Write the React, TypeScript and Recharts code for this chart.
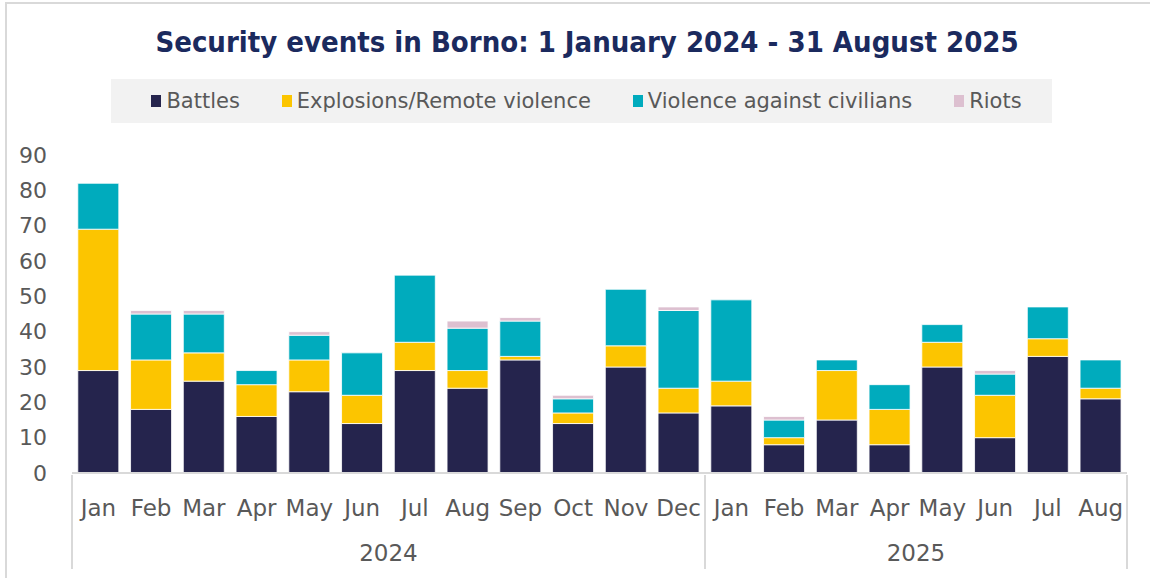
import React from 'react';
import { BarChart, Bar, XAxis, YAxis } from 'recharts';

const months = ['Jan','Feb','Mar','Apr','May','Jun','Jul','Aug','Sep','Oct','Nov','Dec','Jan','Feb','Mar','Apr','May','Jun','Jul','Aug'];
const years = ['2024','2024','2024','2024','2024','2024','2024','2024','2024','2024','2024','2024','2025','2025','2025','2025','2025','2025','2025','2025'];
const battles = [29,18,26,16,23,14,29,24,32,14,30,17,19,8,15,8,30,10,33,21];
const explosions = [40,14,8,9,9,8,8,5,1,3,6,7,7,2,14,10,7,12,5,3];
const violenceCivilians = [13,13,11,4,7,12,19,12,10,4,16,22,23,5,3,7,5,6,9,8];
const riots = [0,1,1,0,1,0,0,2,1,1,0,1,0,1,0,0,0,1,0,0];
const yTicks = [0,10,20,30,40,50,60,70,80,90];

const series = [
  { key: 'battles', name: 'Battles', color: '#25244D' },
  { key: 'explosions', name: 'Explosions/Remote violence', color: '#FCC500' },
  { key: 'vac', name: 'Violence against civilians', color: '#00ABBD' },
  { key: 'riots', name: 'Riots', color: '#DDC0D0' },
];

const data = months.map((m, i) => ({
  key: `${m}-${years[i]}`,
  month: m,
  year: years[i],
  battles: battles[i],
  explosions: explosions[i],
  vac: violenceCivilians[i],
  riots: riots[i],
}));

const W = 1150;
const H = 578;
const MARGIN = { top: 155, right: 23, bottom: 5, left: 0 };
const YAXIS_W = 72;
const XAXIS_H = 100;
const PLOT_W = W - MARGIN.left - MARGIN.right - YAXIS_W;
const STEP = PLOT_W / months.length;
const FONT = "'DejaVu Sans', sans-serif";
const TITLE_FONT = "'DejaVu Sans Condensed', 'DejaVu Sans', sans-serif";
const TEXT = '#595959';
const LINE = '#D9D9D9';

const groups: { year: string; start: number; end: number }[] = [];
years.forEach((y, i) => {
  const g = groups[groups.length - 1];
  if (g && g.year === y) g.end = i;
  else groups.push({ year: y, start: i, end: i });
});

const MonthTick = (props: any) => {
  const { x, y, payload } = props;
  const i = payload.index;
  const left = x - STEP / 2;
  const els: any[] = [];
  els.push(
    <text key="m" x={x} y={y + 41} textAnchor="middle" fill={TEXT} fontSize={23} fontFamily={FONT}>{months[i]}</text>
  );
  groups.forEach((g) => {
    if (g.start === i) {
      els.push(<line key="ls" x1={left} x2={left} y1={y} y2={y + 94} stroke={LINE} strokeWidth={2} />);
      const cx = left + ((g.end - g.start + 1) * STEP) / 2;
      els.push(
        <text key="y" x={cx} y={y + 86} textAnchor="middle" fill={TEXT} fontSize={23} fontFamily={FONT}>{g.year}</text>
      );
    }
    if (g.end === i && i === months.length - 1) {
      els.push(<line key="le" x1={x + STEP / 2} x2={x + STEP / 2} y1={y} y2={y + 94} stroke={LINE} strokeWidth={2} />);
    }
  });
  return <g>{els}</g>;
};

export default function App() {
  return (
    <div style={{ position: 'relative', width: W, height: H, background: '#fff' }}>
      <style>{'body{margin:0}'}</style>
      <div style={{ position: 'absolute', left: 5, top: 2, width: W, height: H - 2, borderLeft: `2px solid ${LINE}`, borderTop: `2px solid ${LINE}`, boxSizing: 'border-box' }} />
      <div style={{ position: 'absolute', left: 0, top: 25, width: 1174, textAlign: 'center', fontFamily: TITLE_FONT, fontWeight: 'bold', fontSize: 29, color: '#1B2A5E', whiteSpace: 'nowrap' }}>
        Security events in Borno: 1 January 2024 - 31 August 2025
      </div>
      <div style={{ position: 'absolute', top: 79, left: 111, width: 941, height: 44, display: 'flex', justifyContent: 'center', alignItems: 'center', background: '#F2F2F2', gap: 42, paddingLeft: 10, boxSizing: 'border-box', whiteSpace: 'nowrap' }}>
        {series.map((s) => (
          <div key={s.key} style={{ display: 'flex', alignItems: 'center', gap: 5 }}>
            <div style={{ width: 10, height: 12, background: s.color }} />
            <span style={{ fontFamily: FONT, fontSize: 21, color: TEXT }}>{s.name}</span>
          </div>
        ))}
      </div>
      <div style={{ position: 'absolute', left: 0, top: 0 }}>
        <BarChart width={W} height={H} data={data} margin={MARGIN} barCategoryGap="11%">
          <XAxis dataKey="key" interval={0} tick={<MonthTick />} tickLine={false} tickSize={0} axisLine={{ stroke: LINE, strokeWidth: 2 }} height={XAXIS_H} />
          <YAxis domain={[0, 90]} ticks={yTicks} interval={0} width={YAXIS_W} axisLine={false} tickLine={false} tickSize={0} tickMargin={25} tick={{ fill: TEXT, fontSize: 22, fontFamily: FONT }} />
          {series.map((s) => (
            <Bar key={s.key} dataKey={s.key} name={s.name} stackId="a" fill={s.color} stroke="#ffffff" strokeWidth={0.8} isAnimationActive={false} />
          ))}
        </BarChart>
      </div>
    </div>
  );
}
